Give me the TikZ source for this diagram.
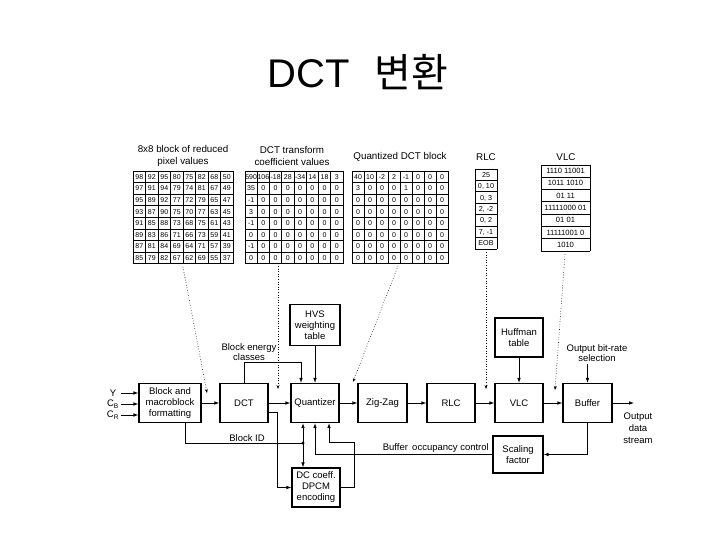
\documentclass[tikz,border=0pt]{standalone}
\usepackage{fontspec}
\setmainfont{Liberation Sans}
\newfontfamily\krfont{Noto Sans CJK KR}
\usetikzlibrary{arrows.meta,calc}
\tikzset{
 box/.style={draw, line width=1.1pt, minimum width=48pt, minimum height=39pt, align=center, inner sep=1pt, font=\fontsize{9.5}{11}\selectfont},
 arr/.style={line width=0.8pt, -{Latex[length=5pt,width=3.6pt]}},
 ln/.style={line width=0.8pt},
 dotarr/.style={line width=0.6pt, dotted, -{Stealth[length=4pt,width=3pt]}},
 cell/.style={inner sep=0pt, text height=5pt, text depth=0pt, font=\fontsize{7}{7}\selectfont},
 lab/.style={align=center, font=\fontsize{9.5}{10.5}\selectfont, inner sep=0pt},
 head/.style={align=center, font=\fontsize{9.8}{12}\selectfont, inner sep=0pt},
 grd/.style={line width=0.75pt}
}
\newcommand\DCTtable[6]{%
 \foreach \rw [count=\r] in {#6}{%
  \foreach \v [count=\c] in \rw {%
   \node[cell] (#1-\r-\c) at ({#2+(\c-0.5)*#4},{#3+(\r-0.5)*#5}) {\v};
  }}%
 \foreach \i in {0,...,8} {%
   \draw[grd] ({#2+\i*#4},#3) -- ({#2+\i*#4},{#3+8*#5});
   \draw[grd] (#2,{#3+\i*#5}) -- ({#2+8*#4},{#3+\i*#5});}%
}
\begin{document}
\begin{tikzpicture}[x=1pt,y=-1pt]
\useasboundingbox (0,0) rectangle (720,540);
% title
\node[anchor=base, inner sep=0pt, font=\fontsize{40}{40}\selectfont] (titleA) at (309,88) {DCT};
\node[anchor=base, inner sep=0pt, font=\fontsize{40}{40}\selectfont\krfont] (titleB) at (411,88) {변환};

% headings
\node[head] (h1) at (183,156) {8x8 block of reduced\\pixel values};
\node[head] (h2) at (292,156) {DCT transform\\coefficient values};
\node[head] (h3) at (400,157) {Quantized DCT block};
\node[head] (h4) at (486,157) {RLC};
\node[head] (h5) at (566,157) {VLC};

% tables
\DCTtable{ta}{133}{171}{12.5}{11.6}{{98,92,95,80,75,82,68,50},{97,91,94,79,74,81,67,49},{95,89,92,77,72,79,65,47},{93,87,90,75,70,77,63,45},{91,85,88,73,68,75,61,43},{89,83,86,71,66,73,59,41},{87,81,84,69,64,71,57,39},{85,79,82,67,62,69,55,37}}
\DCTtable{tb}{245}{171}{12.25}{11.6}{{590,106,-18,28,-34,14,18,3},{35,0,0,0,0,0,0,0},{-1,0,0,0,0,0,0,0},{3,0,0,0,0,0,0,0},{-1,0,0,0,0,0,0,0},{0,0,0,0,0,0,0,0},{-1,0,0,0,0,0,0,0},{0,0,0,0,0,0,0,0}}
\DCTtable{tc}{352}{171}{12}{11.6}{{40,10,-2,2,-1,0,0,0},{3,0,0,0,1,0,0,0},{0,0,0,0,0,0,0,0},{0,0,0,0,0,0,0,0},{0,0,0,0,0,0,0,0},{0,0,0,0,0,0,0,0},{0,0,0,0,0,0,0,0},{0,0,0,0,0,0,0,0}}

% RLC column
\foreach \v [count=\r] in {25,{0, 10},{0, 3},{2, -2},{0, 2},{7, -1},EOB} {
  \node[cell, font=\fontsize{7.2}{7}\selectfont] (rl-\r) at (486,{169+(\r-0.5)*11.43}) {\v};
}
\foreach \i in {0,...,7} {\draw[grd] (475,{169+\i*11.43}) -- (497,{169+\i*11.43});}
\draw[grd] (475,169) -- (475,249) (497,169) -- (497,249);

% VLC column
\foreach \v [count=\r] in {1110 11001,1011 1010,01 11,11111000 01,01 01,11111001 0,1010} {
  \node[cell, font=\fontsize{7.6}{7}\selectfont] (vl-\r) at (565.5,{165+(\r-0.5)*12.29}) {\v};
}
\foreach \i in {0,...,7} {\draw[grd] (541,{165+\i*12.29}) -- (590,{165+\i*12.29});}
\draw[grd] (541,165) -- (541,251) (590,165) -- (590,251);

% blocks
\node[box, minimum width=62pt] (blk) at (170,403) {Block and\\macroblock\\formatting};
\node[box] (dct) at (244,403) {DCT};
\node[box] (quant) at (315,403) {Quantizer};
\node[box, minimum width=49pt] (zz) at (382.5,403) {Zig-Zag};
\node[box] (rlc) at (451,403) {RLC};
\node[box] (vlc) at (519,403) {VLC};
\node[box, minimum width=49pt] (buf) at (587.5,403) {Buffer};
\node[box, minimum width=50pt, minimum height=41pt] (hvs) at (315,325) {HVS\\weighting\\table};
\node[box] (huff) at (519,337.5) {Huffman\\table};
\node[box, minimum width=50pt, minimum height=37pt] (scale) at (518,454.5) {Scaling\\factor};
\node[box] (dc) at (316,487.5) {DC coeff.\\DPCM\\encoding};

% inputs
\node[lab] (lY) at (113,393) {Y};
\node[lab] (lCb) at (113,404) {C\textsubscript{B}};
\node[lab] (lCr) at (113,415) {C\textsubscript{R}};
\draw[arr] (121,393) -- (lY -| blk.west);
\draw[arr] (121,404) -- (lCb -| blk.west);
\draw[arr] (121,415) -- (lCr -| blk.west);

% main chain
\draw[arr] (blk.east) -- (dct.west);
\draw[arr] (dct.east) -- (quant.west);
\draw[arr] (quant.east) -- (zz.west);
\draw[arr] (zz.east) -- (rlc.west);
\draw[arr] (rlc.east) -- (vlc.west);
\draw[arr] (vlc.east) -- (buf.west);
\coordinate (outend) at (634,403);
\draw[arr] (buf.east) -- (outend);
\node[lab, font=\fontsize{9.5}{12}\selectfont] (outlab) at (638,428) {Output\\data\\stream};

% side inputs
\node[lab] (bec) at (249,352) {Block energy\\classes};
\draw[arr] (dct.north) -- ++(0,-21) -| ($(quant.north)+(-14,0)$);
\draw[arr] (hvs.south) -- (quant.north);
\draw[arr] (huff.south) -- (vlc.north);
\node[lab] (obr) at (597,353) {Output bit-rate\\selection};
\draw[arr] ($(buf.north)+(0,-19)$) -- (buf.north);

% feedback
\draw[arr] (buf.south) |- (scale.east);
\draw[arr] (scale.west) -| (quant.south);
\node[lab, anchor=base east] (boc) at (489,450) {Buffer\, occupancy control};

% block ID
\coordinate (jn) at (303,443);
\draw[ln] ($(blk.south)+(15,0)$) |- (jn);
\node[lab, anchor=base] (bid) at (247,441) {Block ID};
\fill (jn) circle (1.6);
\draw[arr] (jn) -- (jn |- quant.south);
\draw[arr] (jn) -- (jn |- dc.north);

% DCT to DC coeff
\draw[arr] ($(dct.east)+(0,9)$) -- ++(9,0) |- (dc.west);
\draw[arr] (dc.east) -- ++(14,0) -- ++(0,-45.5) -| ($(quant.south)+(14,0)$);

% dotted pointers
\coordinate (d1s) at (183,267); \coordinate (d1e) at (207,393);
\coordinate (d2s) at (278,266); \coordinate (d2e) at (278,389);
\coordinate (d3s) at (398,266); \coordinate (d3e) at (353,382);
\coordinate (d4s) at (486,252); \coordinate (d4e) at (486,389);
\coordinate (d5s) at (565,254); \coordinate (d5e) at (555,390);
\draw[dotarr] (d1s) -- (d1e);
\draw[dotarr] (d2s) -- (d2e);
\draw[dotarr] (d3s) -- (d3e);
\draw[dotarr] (d4s) -- (d4e);
\draw[dotarr] (d5s) -- (d5e);
\end{tikzpicture}
\end{document}
